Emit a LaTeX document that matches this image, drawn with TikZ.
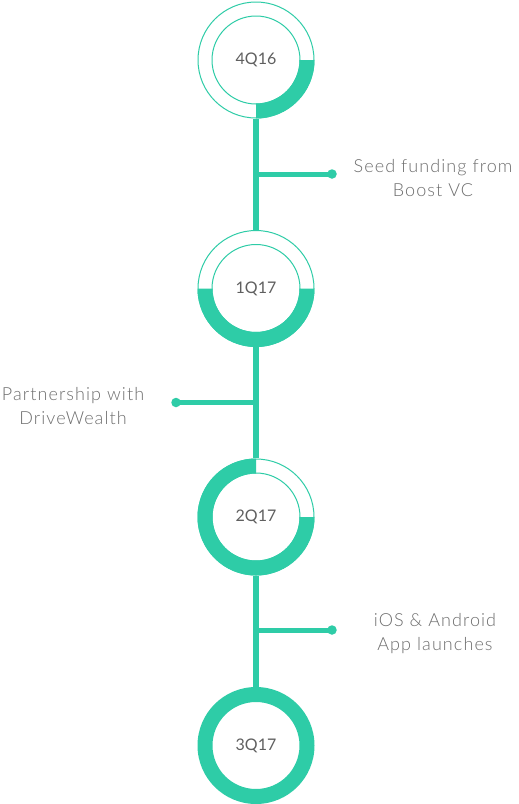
\documentclass[tikz,border=0pt]{standalone}
\usepackage{fontspec}
\setmainfont{Lato}
\newfontfamily\lightfont{Lato Light}[LetterSpace=6]
\usetikzlibrary{calc}
\definecolor{teal2}{RGB}{46,204,167}
\definecolor{txtgray}{RGB}{110,110,110}
\definecolor{lblgray}{RGB}{95,95,95}
\newcommand\ringfill[3]{%
  \fill[teal2] ($(#1.center)+(#2:58.5)$) arc[start angle=#2, end angle=#3, radius=58.5]
    -- ($(#1.center)+(#3:43.5)$) arc[start angle=#3, end angle=#2, radius=43.5] -- cycle;}
\newcommand\ringline[1]{%
  \draw[teal2, line width=1pt] (#1.center) circle[radius=58] (#1.center) circle[radius=44];}
\begin{document}
\begin{tikzpicture}[x=1pt,y=-1pt,
  qcircle/.style={circle, minimum size=117pt, inner sep=0pt, font=\fontsize{16}{19}\selectfont, text=lblgray},
  stem/.style={draw=teal2, line width=5.5pt},
  branch/.style={draw=teal2, line width=5pt},
  dotnode/.style={circle, fill=teal2, minimum size=9.5pt, inner sep=0pt},
  note/.style={align=center, font=\lightfont\fontsize{18}{24}\selectfont, text=txtgray}]
\fill[white] (0,0) rectangle (519,804);
\useasboundingbox (0,0) rectangle (519,804);

\node[qcircle] (q1) at (256,60) {4Q16};
\node[qcircle] (q2) at (256,288.5) {1Q17};
\node[qcircle] (q3) at (256,517) {2Q17};
\node[qcircle] (q4) at (256,745.5) {3Q17};

\ringline{q1}\ringfill{q1}{0}{90}
\ringline{q2}\ringfill{q2}{0}{180}
\ringline{q3}\ringfill{q3}{0}{270}
\fill[teal2, even odd rule] (q4.center) circle[radius=58.5] (q4.center) circle[radius=43.5];

\draw[stem] (q1) -- (q2);
\draw[stem] (q2) -- (q3);
\draw[stem] (q3) -- (q4);

\coordinate (b1) at (256,174);
\coordinate (b2) at (256,402.5);
\coordinate (b3) at (256,630);
\node[dotnode] (d1) at (332,174) {};
\node[dotnode] (d2) at (176,402.5) {};
\node[dotnode] (d3) at (332,630) {};
\draw[branch] (b1) -- (d1.center);
\draw[branch] (b2) -- (d2.center);
\draw[branch] (b3) -- (d3.center);

\node[note] (t1) at (433,178) {Seed funding from\\Boost VC};
\node[note] (t2) at (73,406) {Partnership with\\DriveWealth};
\node[note] (t3) at (435,634) {iOS \& Android\\App launches};
\end{tikzpicture}
\end{document}
